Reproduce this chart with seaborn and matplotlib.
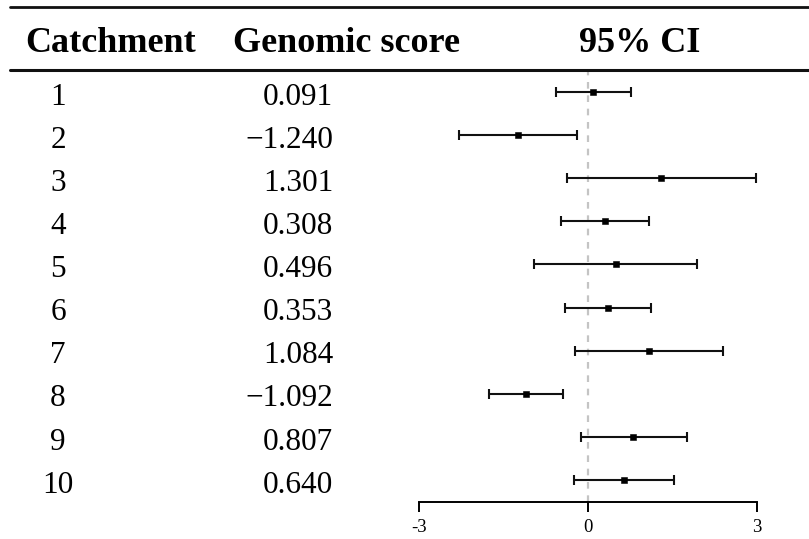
import seaborn as sns
from matplotlib import pyplot as plt
from matplotlib.lines import Line2D
from matplotlib import transforms
import pandas as pd

catchments = [1, 2, 3, 4, 5, 6, 7, 8, 9, 10]
scores = [0.091, -1.240, 1.301, 0.308, 0.496, 0.353, 1.084, -1.092, 0.807, 0.640]
ci_low = [-0.57, -2.29, -0.38, -0.48, -0.95, -0.41, -0.23, -1.75, -0.13, -0.25]
ci_high = [0.76, -0.19, 2.98, 1.09, 1.94, 1.11, 2.40, -0.44, 1.76, 1.53]
headers = ["Catchment", "Genomic score", "95% CI"]
x_ticks = [-3, 0, 3]

df = pd.DataFrame({"row": catchments, "score": scores, "lo": ci_low, "hi": ci_high})

sns.set_theme(style="white")
plt.rcParams["font.family"] = ["Liberation Serif", "DejaVu Serif"]
plt.rcParams["text.color"] = "black"

fig = plt.figure(figsize=(8.09, 5.39), dpi=100)
ax = fig.add_axes([419 / 809, 37 / 539, 338 / 809, 430 / 539])

# reference line at zero
ax.axvline(0, color="#c4c4c4", linestyle=(0, (3, 3)), linewidth=1.6, zorder=0)

# confidence intervals + point estimates
ax.errorbar(df["score"], df["row"],
            xerr=[df["score"] - df["lo"], df["hi"] - df["score"]],
            fmt="none", ecolor="#111111", elinewidth=1.5, capsize=3.6, capthick=1.5)
sns.scatterplot(data=df, x="score", y="row", marker="s", s=24, color="black",
                edgecolor="black", ax=ax, zorder=3)

ax.set_xlim(-3, 3)
ax.set_ylim(10.51, 0.536)
ax.set_xticks(x_ticks)
ax.set_xticklabels([str(t) for t in x_ticks], fontsize=13.5)
ax.set_yticks([])
ax.set_xlabel("")
ax.set_ylabel("")
for side in ["top", "right", "left"]:
    ax.spines[side].set_visible(False)
ax.spines["bottom"].set_color("black")
ax.spines["bottom"].set_linewidth(1.4)
ax.spines["bottom"].set_bounds(-3, 3)
ax.tick_params(axis="x", bottom=True, direction="out", length=7, width=1.4, pad=5,
               colors="black", labelcolor="black")
ax.patch.set_alpha(0)

# table columns (text sits a little below the bar line)
trans = transforms.blended_transform_factory(fig.transFigure, ax.transData)
for r, s in zip(df["row"], df["score"]):
    ax.text(58 / 809, r + 0.12, str(r), transform=trans, ha="center", va="center",
            fontsize=22.5, color="black", clip_on=False)
    ax.text(333 / 809, r + 0.12, f"{s:.3f}".replace("-", "\u2212"), transform=trans,
            ha="right", va="center", fontsize=22.5, color="black", clip_on=False)

# header
head_y = 1 - 44 / 539
fig.text(25 / 809, head_y, headers[0], ha="left", va="center", fontsize=26, fontweight="bold")
fig.text(233 / 809, head_y, headers[1], ha="left", va="center", fontsize=26, fontweight="bold")
fig.text(640 / 809, head_y, headers[2], ha="center", va="center", fontsize=26, fontweight="bold")

fig.add_artist(Line2D([10 / 809, 1], [1 - 7 / 539, 1 - 7 / 539], color="#111111", linewidth=2.0))
fig.add_artist(Line2D([10 / 809, 1], [1 - 70 / 539, 1 - 70 / 539], color="#111111", linewidth=2.2))

fig.savefig("out.png", dpi=100, facecolor="white")
